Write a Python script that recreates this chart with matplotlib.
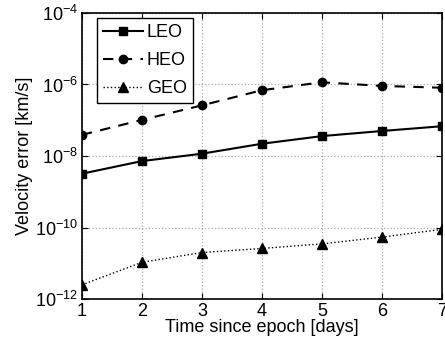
import numpy as np
import matplotlib.pyplot as plt
from matplotlib.ticker import LogLocator, NullLocator

plt.rcParams['font.family'] = ['Liberation Sans', 'DejaVu Sans']

days = [1, 2, 3, 4, 5, 6, 7]
leo = [3.2e-9, 7.2e-9, 1.16e-8, 2.2e-8, 3.6e-8, 5.0e-8, 6.8e-8]
heo = [3.9e-8, 1.02e-7, 2.6e-7, 6.9e-7, 1.15e-6, 9.1e-7, 8.1e-7]
geo = [2.5e-12, 1.07e-11, 2.0e-11, 2.6e-11, 3.5e-11, 5.4e-11, 8.9e-11]

def main():
    fig = plt.figure(figsize=(4.45, 3.49), dpi=100)
    ax = fig.add_axes([0.184, 0.143, 0.809, 0.820])
    ax.semilogy(days, leo, 'k-', marker='s', ms=6, lw=1.5, label='LEO')
    ax.semilogy(days, heo, 'k--', marker='o', ms=6, lw=1.5, label='HEO', dashes=(5, 4))
    ax.semilogy(days, geo, 'k:', marker='^', ms=7, lw=1.0, label='GEO')
    ax.set_xlim(1, 7)
    ax.set_ylim(1e-12, 1e-4)
    ax.set_xticks(days)
    ax.yaxis.set_major_locator(LogLocator(base=100.0))
    ax.yaxis.set_minor_locator(NullLocator())
    ax.grid(True, linestyle=':', color='#aaaaaa', lw=0.9)
    ax.tick_params(direction='in', top=True, right=True, labelsize=13, length=4, pad=3)
    for s in ax.spines.values():
        s.set_linewidth(1.2)
    ax.set_xlabel('Time since epoch [days]', fontsize=13, labelpad=-1)
    ax.set_ylabel('Velocity error [km/s]', fontsize=13, labelpad=1)
    leg = ax.legend(loc='upper left', bbox_to_anchor=(0.042, 0.982), fontsize=13,
                    fancybox=False, edgecolor='k', framealpha=1, handlelength=2.2,
                    borderaxespad=0, labelspacing=0.6, handletextpad=0.2, borderpad=0.35)
    leg.get_frame().set_linewidth(1.0)
    fig.savefig('out.png', dpi=100)

if __name__ == '__main__':
    main()
